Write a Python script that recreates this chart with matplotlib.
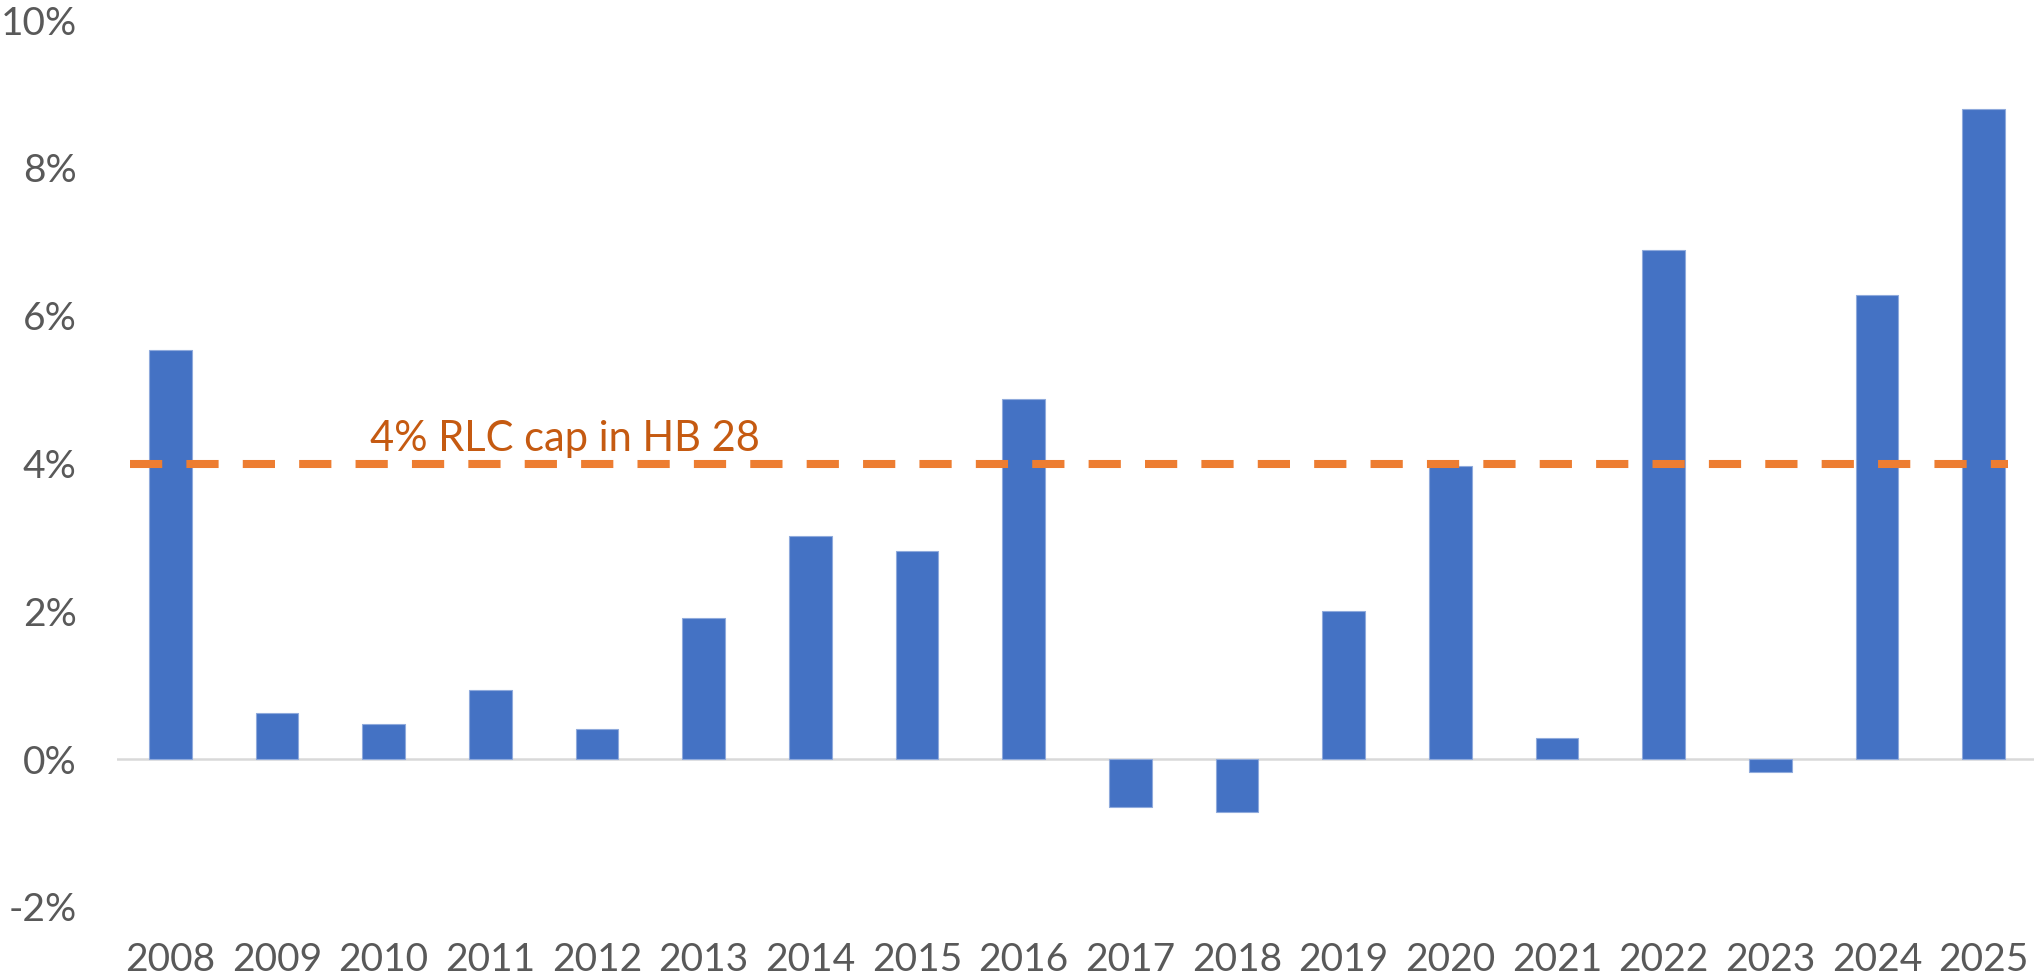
import numpy as np
import matplotlib.pyplot as plt
from matplotlib.ticker import FuncFormatter

years = ['2008', '2009', '2010', '2011', '2012', '2013', '2014', '2015', '2016',
         '2017', '2018', '2019', '2020', '2021', '2022', '2023', '2024', '2025']
growth = [5.54, 0.62, 0.48, 0.94, 0.41, 1.91, 3.02, 2.81, 4.87,
          -0.65, -0.72, 2.00, 3.96, 0.28, 6.89, -0.18, 6.28, 8.80]
cap = 4.0
cap_label = '4% RLC cap in HB 28'

plt.rcParams['font.family'] = ['Lato', 'DejaVu Sans']

fig = plt.figure(figsize=(20.34, 9.8), dpi=100)
ax = fig.add_axes([0.0575, 0.0745, 0.944, 0.905])

x = np.arange(len(years))
ax.bar(x, growth, width=0.4, color='#4472C4', edgecolor='#8FAADC', linewidth=0.8, zorder=2)
ax.axhline(0, color='#D9D9D9', linewidth=1.8, zorder=1)

# cap line
ax.axhline(cap, xmin=0.007, xmax=0.985, color='#ED7D31', linewidth=5.8,
           linestyle=(0, (4, 3)), zorder=3)
ax.text(1.87, cap + 0.08, cap_label, color='#C55A11', fontsize=30,
        ha='left', va='bottom', zorder=4)

ax.set_xlim(-0.5, len(years) - 0.5)
ax.set_ylim(-2, 10)
ax.set_yticks(np.arange(-2, 11, 2))
ax.yaxis.set_major_formatter(FuncFormatter(lambda v, p: f'{v:.0f}%'))
ax.set_xticks(x)
ax.set_xticklabels(years)
ax.tick_params(axis='both', length=0, labelsize=28, labelcolor='#595959')
ax.tick_params(axis='y', pad=29)
ax.tick_params(axis='x', pad=25)
for s in ax.spines.values():
    s.set_visible(False)

fig.savefig('out.png', dpi=100)
